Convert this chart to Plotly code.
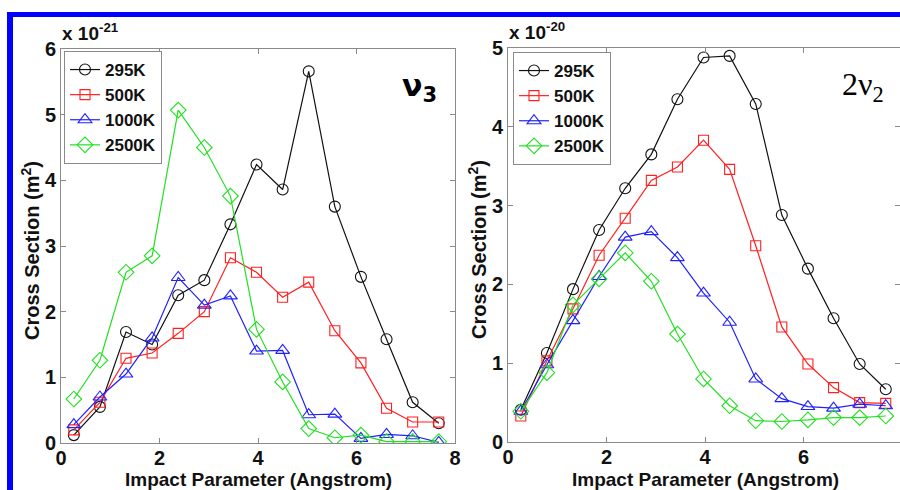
import plotly.graph_objects as go

# Impact parameter (Angstrom)
b = [0.26, 0.79, 1.32, 1.85, 2.38, 2.91, 3.44, 3.97, 4.50, 5.03, 5.56, 6.09, 6.61, 7.14, 7.67]

temps = ["295K", "500K", "1000K", "2500K"]

# nu3 cross sections (x 1e-21 m^2)
nu3_295 = [0.12, 0.55, 1.69, 1.50, 2.25, 2.48, 3.33, 4.24, 3.86, 5.66, 3.60, 2.53, 1.58, 0.62, 0.30]
nu3_500 = [0.20, 0.62, 1.29, 1.37, 1.67, 2.00, 2.82, 2.60, 2.22, 2.45, 1.71, 1.22, 0.53, 0.32, 0.32]
nu3_1000 = [0.28, 0.70, 1.05, 1.60, 2.52, 2.10, 2.24, 1.40, 1.41, 0.43, 0.44, 0.07, 0.13, 0.11, 0.01]
nu3_2500 = [0.67, 1.26, 2.60, 2.85, 5.07, 4.50, 3.76, 1.73, 0.93, 0.22, 0.08, 0.12, 0.02, 0.02, 0.02]

# 2nu2 cross sections (x 1e-20 m^2)
n2_295 = [0.41, 1.13, 1.94, 2.69, 3.22, 3.65, 4.35, 4.88, 4.90, 4.29, 2.88, 2.20, 1.57, 0.99, 0.67]
n2_500 = [0.33, 1.03, 1.69, 2.37, 2.84, 3.32, 3.49, 3.83, 3.46, 2.49, 1.46, 0.99, 0.69, 0.50, 0.49]
n2_1000 = [0.39, 0.98, 1.54, 2.10, 2.60, 2.67, 2.34, 1.89, 1.52, 0.80, 0.55, 0.45, 0.43, 0.48, 0.46]
n2_2500 = [0.39, 0.88, 1.74, 2.07, 2.40, 2.04, 1.37, 0.80, 0.46, 0.27, 0.26, 0.28, 0.31, 0.31, 0.33]

xtitle = "Impact Parameter (Angstrom)"
ytitle = "Cross Section (m<sup>2</sup>)"

colors = ["#111111", "#ff2020", "#2020ff", "#22e022"]
symbols = ["circle-open", "square-open", "triangle-up-open", "diamond-open"]
msizes = [11, 10, 12, 12]

W, H = 900, 490
def px(x):
    return x / W
def py(y):
    return 1 - y / H

fig = go.Figure()

left_sets = [nu3_295, nu3_500, nu3_1000, nu3_2500]
right_sets = [n2_295, n2_500, n2_1000, n2_2500]

for i, t in enumerate(temps):
    fig.add_trace(go.Scatter(
        x=b, y=left_sets[i], name=t, mode="lines+markers",
        line=dict(color=colors[i], width=1.2),
        marker=dict(symbol=symbols[i], size=msizes[i], color=colors[i], line=dict(width=1.1, color=colors[i])),
        xaxis="x", yaxis="y", legend="legend"))
for i, t in enumerate(temps):
    fig.add_trace(go.Scatter(
        x=b, y=right_sets[i], name=t, mode="lines+markers",
        line=dict(color=colors[i], width=1.2),
        marker=dict(symbol=symbols[i], size=msizes[i], color=colors[i], line=dict(width=1.1, color=colors[i])),
        xaxis="x2", yaxis="y2", legend="legend2"))

tickfont = dict(family="Liberation Sans", size=20, color="#111", weight="bold")
titlefont = dict(family="Liberation Sans", size=19, color="#111", weight="bold")
axis_common = dict(showline=True, linecolor="#8a8a8a", linewidth=1, mirror="ticks",
                   ticks="inside", ticklen=5, tickcolor="#8a8a8a", showgrid=False,
                   zeroline=False, tickfont=tickfont, automargin=False)

legfont = dict(family="Liberation Sans", size=17, color="#111", weight="bold")

fig.update_layout(
    template="none",
    width=W, height=H,
    margin=dict(l=0, r=0, t=0, b=0, pad=0, autoexpand=False),
    paper_bgcolor="white", plot_bgcolor="white",
    xaxis=dict(domain=[px(61), px(455)], range=[0, 8], tickvals=[0, 2, 4, 6, 8],
               ticklabelstandoff=-3, anchor="y", **axis_common),
    yaxis=dict(domain=[py(443), py(49)], range=[0, 6], tickvals=[0, 1, 2, 3, 4, 5, 6],
               anchor="x", **axis_common),
    xaxis2=dict(domain=[px(508), 1.0], range=[0, 8 * 392 / 394], tickvals=[0, 2, 4, 6, 8],
                ticklabelstandoff=-3, anchor="y2", **axis_common),
    yaxis2=dict(domain=[py(442), py(48)], range=[0, 5], tickvals=[0, 1, 2, 3, 4, 5],
                anchor="x2", **axis_common),
    legend=dict(x=px(64), y=py(51), xanchor="left", yanchor="top",
                bordercolor="#8a8a8a", borderwidth=1, bgcolor="white",
                font=legfont, tracegroupgap=0, itemwidth=30),
    legend2=dict(x=px(513), y=py(52), xanchor="left", yanchor="top",
                 bordercolor="#8a8a8a", borderwidth=1, bgcolor="white",
                 font=legfont, tracegroupgap=0, itemwidth=30),
    showlegend=True,
)

annos = [
    dict(text=xtitle, x=px(258), y=py(479), xanchor="center", yanchor="middle", font=titlefont),
    dict(text=xtitle, x=px(705), y=py(479), xanchor="center", yanchor="middle", font=titlefont),
    dict(text=ytitle, x=px(30), y=py(251), xanchor="center", yanchor="middle", textangle=-90,
         font=dict(family="Liberation Sans", size=20, color="#111", weight="bold")),
    dict(text=ytitle, x=px(477), y=py(250), xanchor="center", yanchor="middle", textangle=-90,
         font=dict(family="Liberation Sans", size=20, color="#111", weight="bold")),
    dict(text="x 10<sup>-21</sup>", x=px(60), y=py(46), xanchor="left", yanchor="bottom",
         font=dict(family="Liberation Sans", size=19, color="#111", weight="bold")),
    dict(text="x 10<sup>-20</sup>", x=px(507), y=py(45), xanchor="left", yanchor="bottom",
         font=dict(family="Liberation Sans", size=19, color="#111", weight="bold")),
    dict(text="ν<sub>3</sub>", x=px(419), y=py(88), xanchor="center", yanchor="middle",
         font=dict(family="DejaVu Sans", size=30, color="#000", weight="bold")),
    dict(text="2ν<sub>2</sub>", x=px(863), y=py(86), xanchor="center", yanchor="middle",
         font=dict(family="Liberation Serif", size=32, color="#000")),
]
for a in annos:
    a.update(xref="paper", yref="paper", showarrow=False)
fig.update_layout(annotations=annos)

# blue frame (top and left edges of the picture)
fig.add_shape(type="rect", xref="paper", yref="paper", x0=px(7), x1=1.0, y0=py(17), y1=py(12),
              fillcolor="#0000ff", line=dict(width=0), layer="above")
fig.add_shape(type="rect", xref="paper", yref="paper", x0=px(7), x1=px(13), y0=0, y1=py(12),
              fillcolor="#0000ff", line=dict(width=0), layer="above")

fig.write_html("out.html")
